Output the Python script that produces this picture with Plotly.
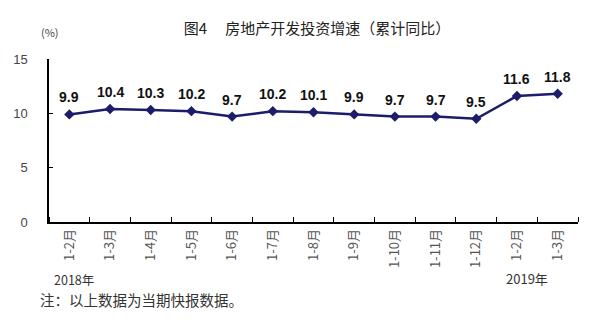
import plotly.graph_objects as go

categories = ["1-2月", "1-3月", "1-4月", "1-5月", "1-6月", "1-7月", "1-8月",
              "1-9月", "1-10月", "1-11月", "1-12月", "1-2月", "1-3月"]
values = [9.9, 10.4, 10.3, 10.2, 9.7, 10.2, 10.1, 9.9, 9.7, 9.7, 9.5, 11.6, 11.8]
y_ticks = [0, 5, 10, 15]

x = list(range(len(categories)))
cjk = "Noto Sans CJK SC"

fig = go.Figure()
fig.add_trace(go.Scatter(
    x=x, y=values, mode="lines+markers",
    line=dict(color="#1c1c6b", width=2.5),
    marker=dict(symbol="diamond", size=8, color="#1c1c6b"),
    hoverinfo="skip",
))

for xi, v in zip(x, values):
    fig.add_annotation(x=xi, y=v, text=f"{v:.1f}", showarrow=False,
                       yshift=17, xanchor="center", yanchor="middle",
                       font=dict(family="Arial", size=14, color="#111111", weight="bold"))

fig.update_layout(
    width=599, height=322,
    margin=dict(l=49, r=21, t=59, b=100),
    paper_bgcolor="white", plot_bgcolor="white",
    showlegend=False,
    font=dict(family=cjk, color="#333333"),
    title=dict(text="图4　 房地产开发投资增速（累计同比）", x=317 / 599, xanchor="center",
               y=0.91, yanchor="middle",
               font=dict(family=cjk, size=15, color="#222222")),
    xaxis=dict(
        range=[-0.5, len(categories) - 0.5],
        tickmode="array", tickvals=x, ticktext=categories,
        tickangle=-90, ticks="", showgrid=False, zeroline=False,
        showline=True, linecolor="black", linewidth=1.5,
        tickfont=dict(family=cjk, size=13, color="#555555"),
        minor=dict(tick0=0.5, dtick=1, ticks="inside", ticklen=5,
                   tickcolor="black", tickwidth=1, showgrid=False),
    ),
    yaxis=dict(
        range=[0, 15], tickmode="array", tickvals=y_ticks,
        ticks="inside", ticklen=4, tickcolor="black",
        showgrid=False, zeroline=False,
        showline=True, linecolor="black", linewidth=1.5,
        tickfont=dict(family="Arial", size=13, color="#444444"),
        ticklabelstandoff=17,
    ),
)

fig.add_annotation(text="(%)", xref="paper", yref="paper", x=0, y=1.0,
                   xshift=1, yshift=27, xanchor="center", yanchor="middle",
                   showarrow=False, font=dict(family=cjk, size=11, color="#444444"))
fig.add_annotation(text="2018年", xref="paper", yref="paper", x=0, y=0,
                   xshift=3, yshift=-57, xanchor="left", yanchor="middle",
                   showarrow=False, font=dict(family=cjk, size=12.5, color="#333333"))
fig.add_annotation(text="2019年", xref="paper", yref="paper", x=1, y=0,
                   xshift=-28, yshift=-56, xanchor="right", yanchor="middle",
                   showarrow=False, font=dict(family=cjk, size=13, color="#333333"))
fig.add_annotation(text="注：以上数据为当期快报数据。", xref="paper", yref="paper", x=0, y=0,
                   xshift=-11, yshift=-77, xanchor="left", yanchor="middle",
                   showarrow=False, font=dict(family=cjk, size=14.5, color="#333333"))

fig.write_html("out.html")
